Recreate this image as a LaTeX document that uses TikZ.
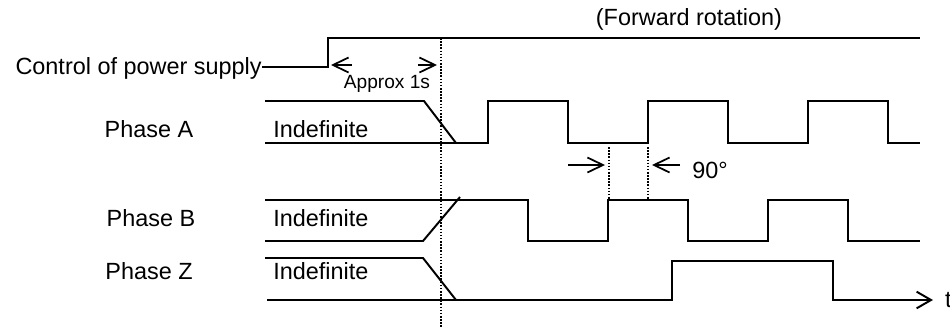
\documentclass[tikz,border=0pt]{standalone}
\usepackage{fontspec}
\setmainfont{Liberation Sans}
\usetikzlibrary{arrows.meta}

\begin{document}
\begin{tikzpicture}[x=0.018cm, y=-0.018cm,
    >={Straight Barb[length=2.8mm,width=2.7mm]},
    every node/.style={font=\fontsize{12}{14}\selectfont, inner sep=0pt},
    wave/.style={line width=1pt},
    dim/.style={line width=0.9pt, ->},
    guide/.style={line width=0.8pt, dash pattern=on 0.8pt off 0.8pt}]
  \useasboundingbox (0,0) rectangle (950,328);
  % signal names
  \node[anchor=base east] (lpow) at (262,74) {Control of power supply};
  \node[anchor=base] (lA) at (149,137) {Phase A};
  \node[anchor=base] (lB) at (151,226) {Phase B};
  \node[anchor=base] (lZ) at (149,279) {Phase Z};
  \node[anchor=base west] (iA) at (273,137) {Indefinite};
  \node[anchor=base west] (iB) at (273,226) {Indefinite};
  \node[anchor=base west] (iZ) at (273,279) {Indefinite};
  \node[anchor=base] (fwd) at (689,25) {(Forward rotation)};
  \node[anchor=base, font=\fontsize{9.8}{11}\selectfont] (approx) at (387,88) {Approx 1s};
  \node[anchor=base west] (deg) at (692,178) {90°};
  \node[anchor=west, inner sep=6pt] (t) at (933,300) {t};
  % control of power supply
  \draw[wave] (lpow.east |- 0,67) -- (328,67) -- (328,38) -- (920,38);
  \coordinate (ps1) at (352,65);
  \coordinate (ps0) at (331,65);
  \coordinate (ps2) at (418,65);
  \coordinate (ps3) at (437,65);
  \draw[dim] (ps1) -- (ps0);
  \draw[dim] (ps2) -- (ps3);
  % phase A
  \draw[wave] (265,101) -- (424,101) -- (456,143);
  \draw[wave] (265,143) -- (488,143) -- (488,101) -- (568,101) -- (568,143)
    -- (648,143) -- (648,101) -- (728,101) -- (728,143) -- (808,143)
    -- (808,101) -- (888,101) -- (888,143) -- (920,143);
  % phase B
  \draw[wave] (265,200) -- (528,200) -- (528,241) -- (608,241) -- (608,200)
    -- (688,200) -- (688,241) -- (768,241) -- (768,200) -- (848,200)
    -- (848,241) -- (920,241);
  \draw[wave] (265,241) -- (423,241) -- (460,197);
  % phase Z
  \draw[wave] (265,258) -- (423,258) -- (456,300);
  \draw[wave,->,>={Straight Barb[length=2.6mm,width=3mm]}] (267,300) -- (672,300)
    -- (672,261) -- (833,261) -- (833,300) -- (t.west);
  % start line and 90 deg
  \draw[guide] (441,38) -- (441,328);
  \draw[guide] (609,147) -- (609,200);
  \draw[guide] (648,147) -- (648,200);
  \coordinate (d1) at (568,165);
  \coordinate (d2) at (605,165);
  \coordinate (d3) at (680,165);
  \coordinate (d4) at (652,165);
  \draw[dim] (d1) -- (d2);
  \draw[dim] (d3) -- (d4);
\end{tikzpicture}
\end{document}
